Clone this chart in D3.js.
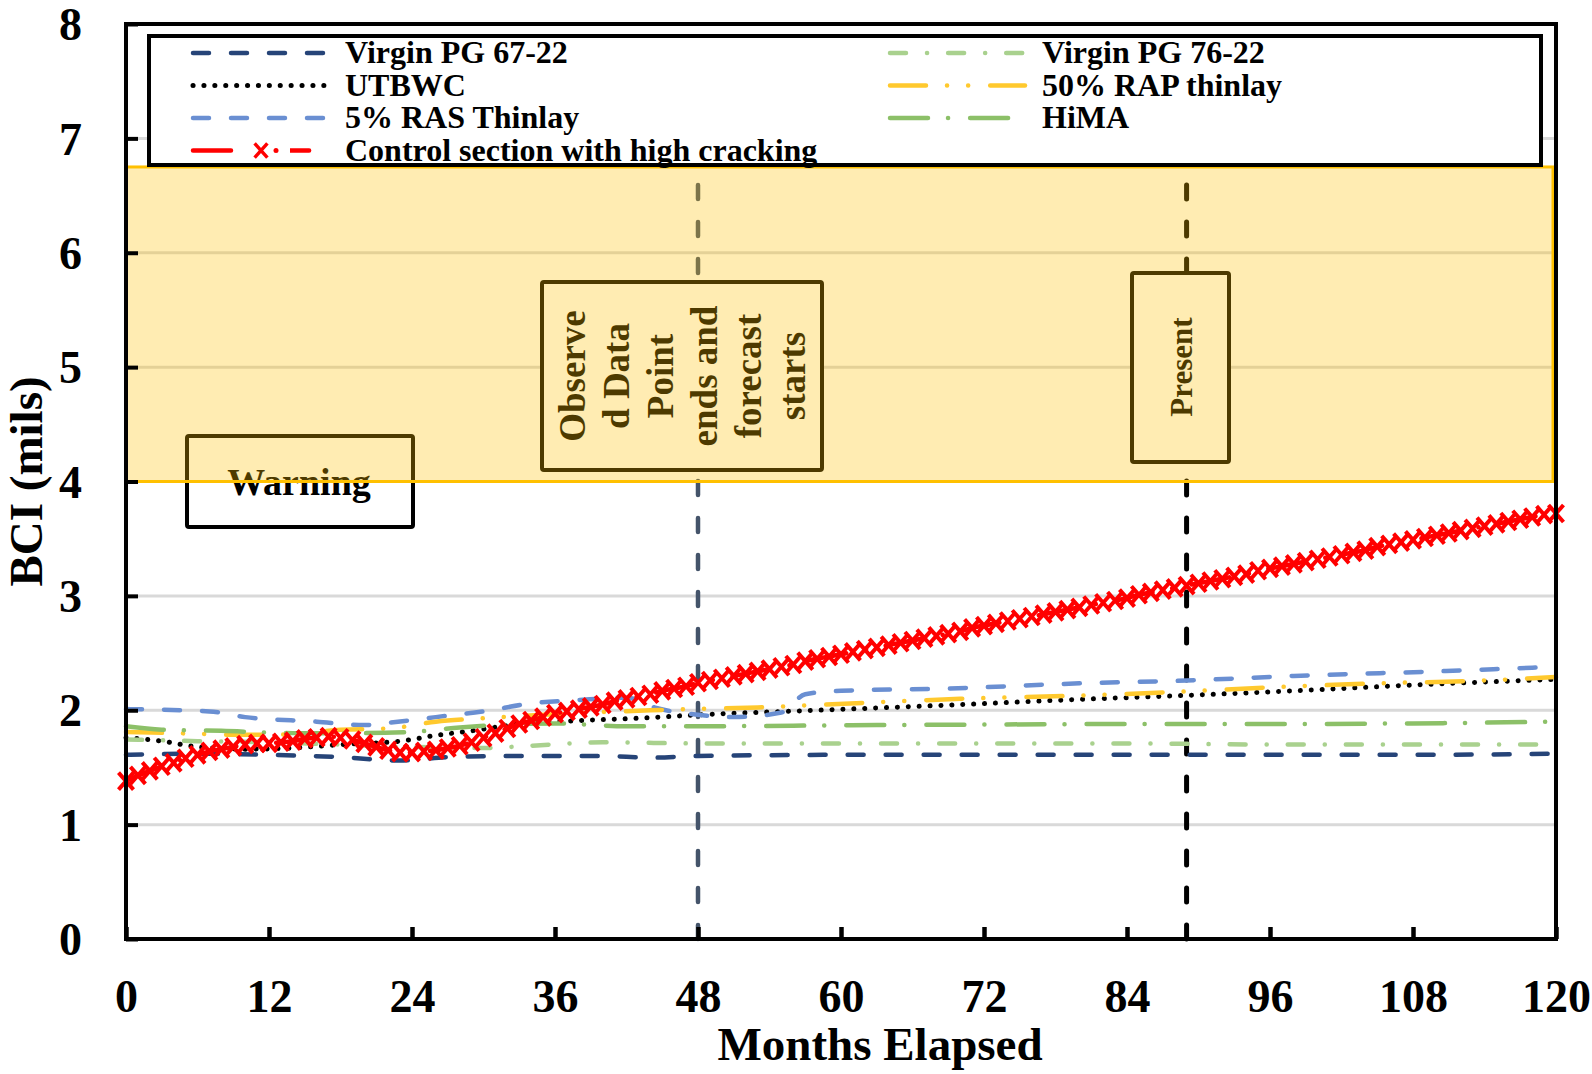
<!DOCTYPE html>
<html>
<head>
<meta charset="utf-8">
<title>BCI (mils) vs Months Elapsed</title>
<script src="https://d3js.org/d3.v7.min.js"></script>
<style>
  body { margin: 0; background: #fff; }
  text { font-family: "Liberation Serif", "Times New Roman", serif; font-weight: bold; fill: #000; }
</style>
</head>
<body>
<script>
  const width = 1592;
  const height = 1074;

  // tick labels
  const xTicks = [0, 12, 24, 36, 48, 60, 72, 84, 96, 108, 120];
  const yTicks = [0, 1, 2, 3, 4, 5, 6, 7, 8];

  // series: [month, BCI]
  const virginPG6722 = [[0,1.61],[6,1.62],[12,1.61],[18,1.59],[23,1.56],[27,1.59],[32,1.60],[40,1.60],[44,1.585],[48,1.60],[60,1.61],[72,1.61],[84,1.61],[96,1.61],[108,1.61],[120,1.62]];
  const utbwc = [[0,1.76],[3,1.73],[6,1.68],[10,1.66],[14,1.67],[18,1.70],[23,1.73],[26,1.78],[29,1.82],[33,1.88],[38,1.91],[43,1.93],[48,1.96],[58,2.00],[69,2.045],[80,2.095],[89,2.13],[98,2.17],[110,2.23],[120,2.27]];
  const ras5 = [[0,2.01],[7,1.99],[10,1.94],[16,1.90],[20,1.87],[22,1.89],[26,1.94],[30,1.99],[34,2.06],[38,2.09],[42,2.11],[44.5,2.02],[48,1.96],[51,1.94],[55,1.98],[57,2.14],[60,2.17],[69,2.19],[80,2.235],[89,2.26],[98,2.30],[110,2.34],[120,2.38]];
  const virginPG7622 = [[0,1.745],[6,1.73],[12,1.72],[18,1.70],[24,1.68],[30,1.67],[34,1.69],[40,1.72],[48,1.71],[60,1.71],[72,1.71],[84,1.71],[96,1.70],[108,1.70],[120,1.70]];
  const rap50 = [[0,1.81],[4,1.80],[10,1.785],[14,1.79],[18,1.83],[22,1.84],[26,1.90],[30,1.93],[35,1.96],[44,2.00],[53,2.025],[62,2.065],[70,2.10],[79,2.125],[88,2.16],[96,2.20],[105,2.235],[114,2.26],[120,2.29]];
  const hima = [[0,1.86],[3,1.83],[8,1.82],[14,1.80],[20,1.80],[24,1.81],[28,1.85],[33,1.88],[36,1.885],[42,1.86],[48,1.86],[56,1.865],[63,1.87],[72,1.875],[84,1.88],[96,1.88],[108,1.885],[120,1.90]];

  // control section, one reading per month 0..120
  const controlMonths = d3.range(0, 121);
  const controlValues = [
    1.38,1.43,1.47,1.51,1.54,1.58,1.61,1.64,1.66,1.68,
    1.70,1.71,1.71,1.72,1.73,1.75,1.76,1.77,1.76,1.74,
    1.71,1.68,1.65,1.63,1.63,1.64,1.65,1.67,1.69,1.72,
    1.76,1.80,1.84,1.88,1.91,1.94,1.97,1.99,2.01,2.03,
    2.05,2.08,2.10,2.12,2.14,2.17,2.19,2.21,2.24,2.26,
    2.28,2.30,2.32,2.34,2.36,2.38,2.40,2.43,2.45,2.47,
    2.49,2.51,2.53,2.55,2.57,2.59,2.61,2.63,2.65,2.67,
    2.69,2.72,2.74,2.76,2.78,2.80,2.82,2.84,2.86,2.88,
    2.90,2.92,2.94,2.96,2.98,3.01,3.03,3.05,3.07,3.09,
    3.11,3.13,3.15,3.17,3.19,3.22,3.24,3.26,3.28,3.30,
    3.32,3.34,3.36,3.38,3.40,3.43,3.45,3.47,3.49,3.51,
    3.53,3.55,3.57,3.59,3.61,3.63,3.65,3.67,3.69,3.71,3.72
  ];

  // warning band and markers
  const warningBand = [4, 6.75];
  const observedEndMonth = 48;
  const presentMonth = 89;
  const observedLines = ["Observe", "d Data", "Point", "ends and", "forecast", "starts"];

  const svg = d3.select("body")
    .append("svg")
    .attr("width", width)
    .attr("height", height);

  const x = d3.scaleLinear().domain([0, 120]).range([126, 1556]);
  const y = d3.scaleLinear().domain([0, 8]).range([939, 24]);

  const series = [
    {name: "Virgin PG 67-22", data: virginPG6722, color: "#264478", dash: "16,22", width: 4.5},
    {name: "UTBWC", data: utbwc, color: "#000", dash: "0.1,10.8", width: 5},
    {name: "5% RAS Thinlay", data: ras5, color: "#6A8FD2", dash: "16,22", width: 4.5},
    {name: "Virgin PG 76-22", data: virginPG7622, color: "#A9D18E", dash: "16,21,0.1,21", width: 4.5},
    {name: "50% RAP thinlay", data: rap50, color: "#FFC92E", dash: "36,21,0.1,21,0.1,22", width: 4.5},
    {name: "HiMA", data: hima, color: "#8CC068", dash: "38,20,0.1,22", width: 4.5}
  ];
  const control = {name: "Control section with high cracking", color: "#FF0000", dash: "38,20,0.1,20", width: 4.5};

  // gridlines
  svg.append("g")
    .selectAll("line")
    .data(yTicks.filter(d => d > 0 && d < 8))
    .join("line")
    .attr("x1", x(0)).attr("x2", x(120))
    .attr("y1", d => y(d)).attr("y2", d => y(d))
    .attr("stroke", "#d9d9d9")
    .attr("stroke-width", 3);

  // vertical dashed markers, drawn bottom-up so a dash meets the axis
  svg.append("line")
    .attr("x1", x(observedEndMonth)).attr("x2", x(observedEndMonth))
    .attr("y1", y(0)).attr("y2", y(8))
    .attr("stroke", "#44546A").attr("stroke-width", 4.5)
    .attr("stroke-dasharray", "14,23").attr("stroke-linecap", "round");
  svg.append("line")
    .attr("x1", x(presentMonth)).attr("x2", x(presentMonth))
    .attr("y1", y(0)).attr("y2", y(8))
    .attr("stroke", "#000").attr("stroke-width", 5)
    .attr("stroke-dasharray", "14,23").attr("stroke-linecap", "round");

  // series lines
  const line = d3.line()
    .x(d => x(d[0]))
    .y(d => y(d[1]))
    .curve(d3.curveMonotoneX);

  svg.append("g")
    .selectAll("path")
    .data(series)
    .join("path")
    .attr("d", d => line(d.data))
    .attr("fill", "none")
    .attr("stroke", d => d.color)
    .attr("stroke-width", d => d.width)
    .attr("stroke-dasharray", d => d.dash)
    .attr("stroke-linecap", "round");

  const controlData = controlMonths.map((m, i) => [m, controlValues[i]]);
  svg.append("path")
    .attr("d", line(controlData))
    .attr("fill", "none")
    .attr("stroke", control.color)
    .attr("stroke-width", control.width)
    .attr("stroke-dasharray", control.dash)
    .attr("stroke-linecap", "round");

  const crossPath = "M-7.5,-8.5L7.5,8.5M-7.5,8.5L7.5,-8.5";
  svg.append("g")
    .selectAll("path")
    .data(controlData)
    .join("path")
    .attr("transform", d => `translate(${x(d[0])},${y(d[1])})`)
    .attr("d", crossPath)
    .attr("fill", "none")
    .attr("stroke", control.color)
    .attr("stroke-width", 4);

  // annotation boxes (white filled, under the band)
  const boxes = svg.append("g");
  boxes.append("rect")
    .attr("x", 187).attr("y", 436).attr("width", 226).attr("height", 91)
    .attr("fill", "#fff").attr("stroke", "#000").attr("stroke-width", 4).attr("rx", 2);
  boxes.append("text")
    .attr("x", 299).attr("y", 495)
    .attr("text-anchor", "middle")
    .style("font-size", "38px")
    .text("Warning");

  boxes.append("rect")
    .attr("x", 542).attr("y", 282).attr("width", 280).attr("height", 188)
    .attr("fill", "#fff").attr("stroke", "#000").attr("stroke-width", 4).attr("rx", 2);
  boxes.selectAll("text.obs")
    .data(observedLines)
    .join("text")
    .attr("class", "obs")
    .attr("text-anchor", "middle")
    .attr("transform", (d, i) => `translate(${585 + i * 44},376) rotate(-90)`)
    .style("font-size", "37px")
    .text(d => d);

  boxes.append("rect")
    .attr("x", 1132).attr("y", 273).attr("width", 97).attr("height", 189)
    .attr("fill", "#fff").attr("stroke", "#000").attr("stroke-width", 4).attr("rx", 2);
  boxes.append("text")
    .attr("text-anchor", "middle")
    .attr("transform", "translate(1192,367) rotate(-90)")
    .style("font-size", "31px")
    .text("Present");

  // warning band (semi-transparent)
  svg.append("rect")
    .attr("x", x(0)).attr("y", y(warningBand[1]))
    .attr("width", x(120) - x(0) - 3)
    .attr("height", y(warningBand[0]) - y(warningBand[1]))
    .attr("fill", "#FFC000").attr("fill-opacity", 0.3)
    .attr("stroke", "#FFC000").attr("stroke-width", 3);

  // axes
  const xAxis = svg.append("g")
    .attr("transform", `translate(0,${y(0)})`)
    .call(d3.axisBottom(x).tickValues(xTicks).tickSize(-12).tickPadding(40));
  xAxis.select(".domain").remove();
  xAxis.selectAll("line").attr("stroke", "#000").attr("stroke-width", 4.5);
  xAxis.selectAll("text").style("font-size", "46px").attr("fill", "#000");

  const yAxis = svg.append("g")
    .attr("transform", `translate(${x(0)},0)`)
    .call(d3.axisLeft(y).tickValues(yTicks).tickSize(-12).tickPadding(44));
  yAxis.select(".domain").remove();
  yAxis.selectAll("line").attr("stroke", "#000").attr("stroke-width", 4);
  yAxis.selectAll("text").style("font-size", "46px").attr("dy", "0.34em").attr("fill", "#000");

  // legend
  const legend = svg.append("g");
  legend.append("rect")
    .attr("x", 149).attr("y", 36).attr("width", 1392).attr("height", 129)
    .attr("fill", "#fff").attr("stroke", "#000").attr("stroke-width", 4);

  const legendItems = [
    {s: series[0], col: 0, row: 0},
    {s: series[1], col: 0, row: 1},
    {s: series[2], col: 0, row: 2},
    {s: control, col: 0, row: 3, marker: true},
    {s: series[3], col: 1, row: 0},
    {s: series[4], col: 1, row: 1},
    {s: series[5], col: 1, row: 2}
  ];
  const colX = [[191, 327, 345], [888, 1027, 1042]];
  const rowY = [53, 85.5, 118, 150.5];

  legendItems.forEach(item => {
    const [x1, x2, tx] = colX[item.col];
    const ry = rowY[item.row];
    legend.append("line")
      .attr("x1", x1 + 2).attr("x2", x2 - 2)
      .attr("y1", ry).attr("y2", ry)
      .attr("stroke", item.s.color)
      .attr("stroke-width", item.s.width)
      .attr("stroke-dasharray", item.s.dash)
      .attr("stroke-linecap", "round");
    if (item.marker) {
      legend.append("rect")
        .attr("x", 238).attr("y", ry - 9).attr("width", 52).attr("height", 18)
        .attr("fill", "#fff");
      legend.append("path")
        .attr("transform", `translate(261,${ry}) scale(0.85)`)
        .attr("d", crossPath)
        .attr("fill", "none")
        .attr("stroke", item.s.color)
        .attr("stroke-width", 4);
      legend.append("circle")
        .attr("cx", 276).attr("cy", ry).attr("r", 2.5)
        .attr("fill", item.s.color);
    }
    legend.append("text")
      .attr("x", tx).attr("y", ry + 10)
      .style("font-size", "32px")
      .text(item.s.name);
  });

  // plot frame
  svg.append("rect")
    .attr("x", x(0)).attr("y", y(8))
    .attr("width", x(120) - x(0))
    .attr("height", y(0) - y(8))
    .attr("fill", "none")
    .attr("stroke", "#000")
    .attr("stroke-width", 4);

  // axis titles
  svg.append("text")
    .attr("x", 880).attr("y", 1060)
    .attr("text-anchor", "middle")
    .style("font-size", "47px")
    .text("Months Elapsed");

  svg.append("text")
    .attr("text-anchor", "middle")
    .attr("transform", `translate(42,${(y(0) + y(8)) / 2}) rotate(-90)`)
    .style("font-size", "47px")
    .text("BCI (mils)");
</script>
</body>
</html>
